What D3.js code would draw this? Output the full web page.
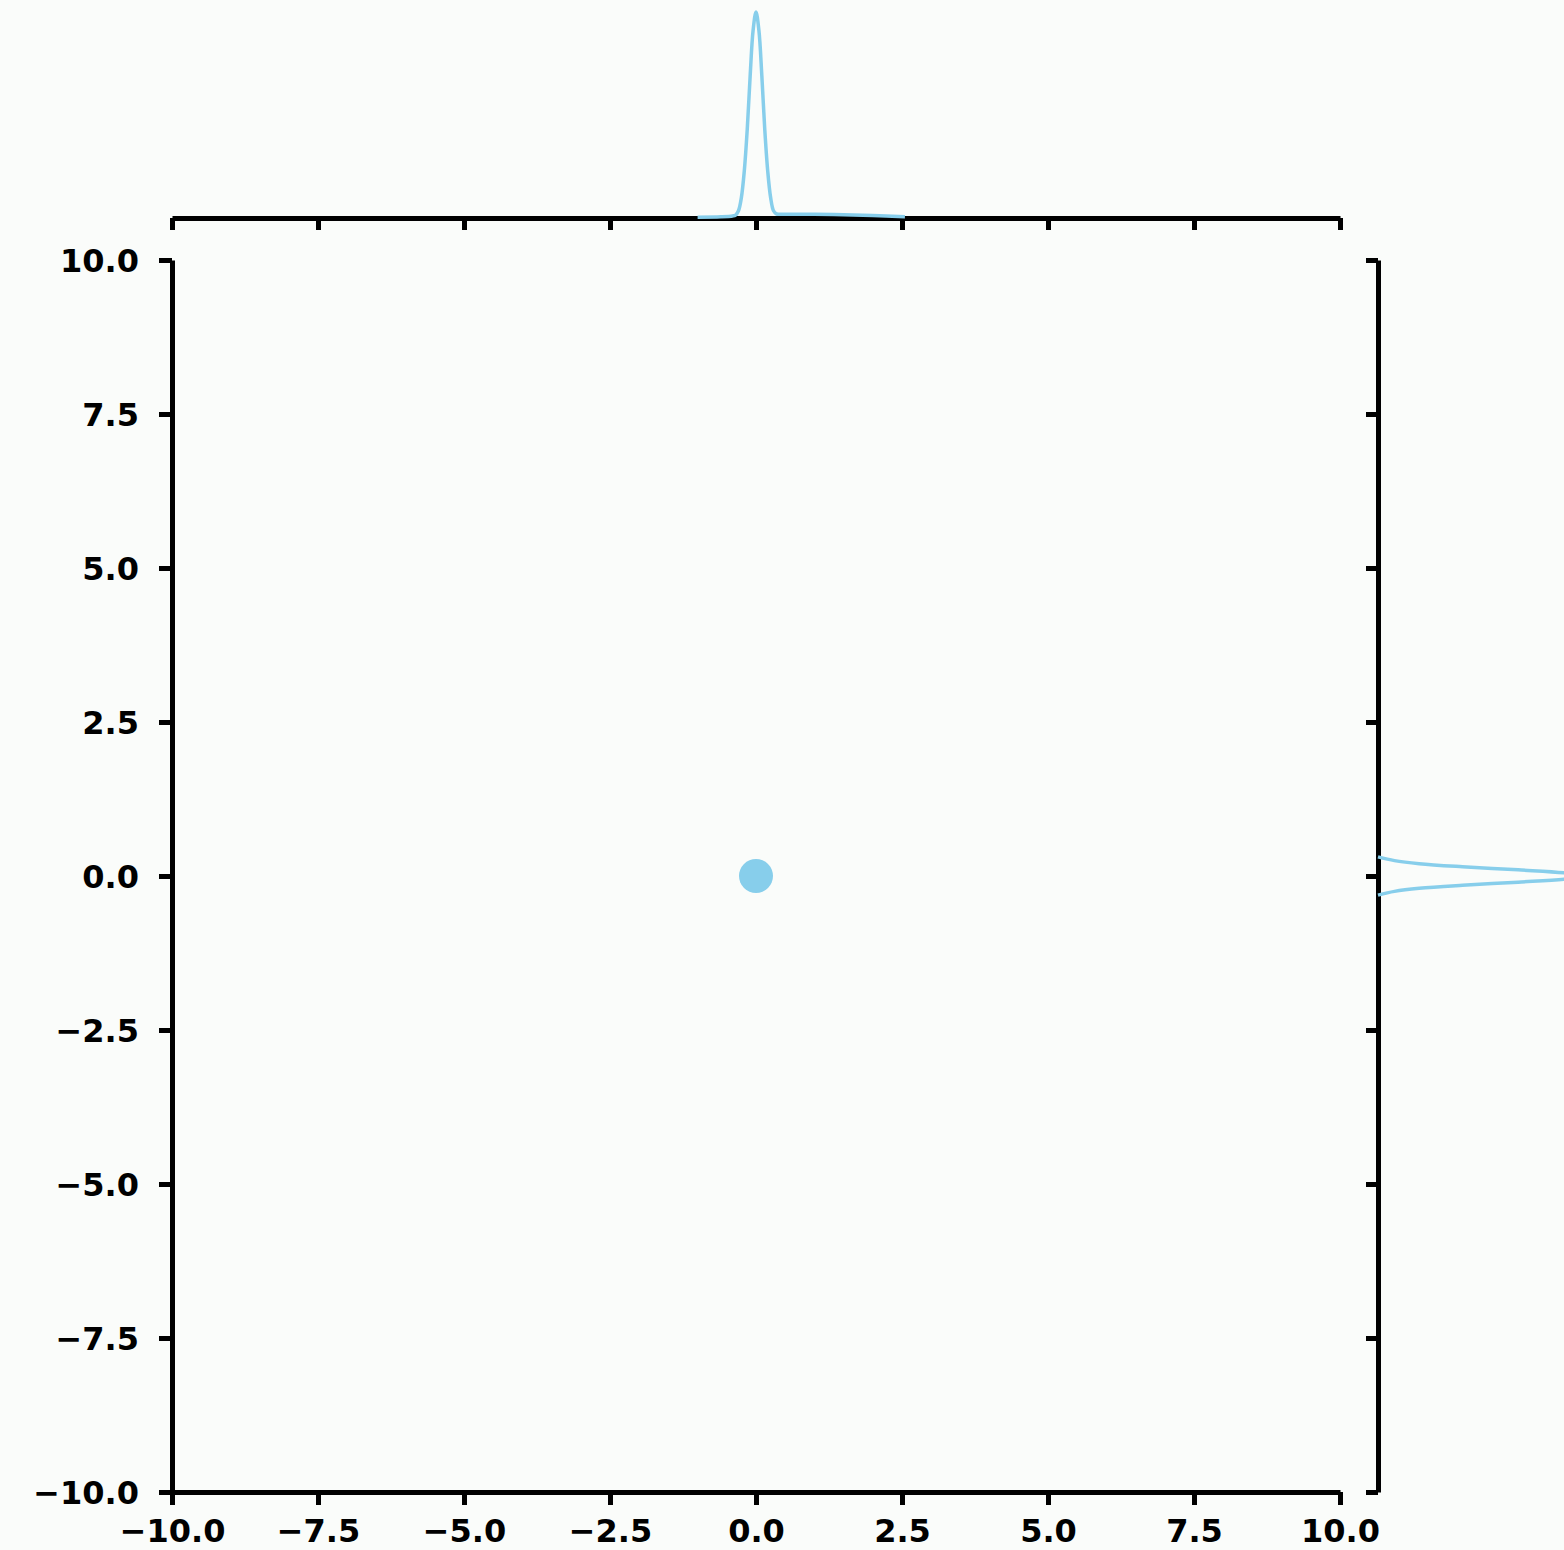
<!DOCTYPE html>
<html>
<head>
<meta charset="utf-8">
<script src="https://cdn.jsdelivr.net/npm/d3@7"></script>
<style>
body{margin:0;background:#fafcfa;}
.tick text{font-family:"DejaVu Sans";font-weight:bold;font-size:32px;fill:#000;}
</style>
</head>
<body>
<svg id="chart"></svg>
<script>
// SCATTER DATA
var point_x = [0.0];
var point_y = [0.0];

// TICKS
var tick_values = [-10, -7.5, -5, -2.5, 0, 2.5, 5, 7.5, 10];

// TOP MARGINAL KDE (x, relative density)
var top_kde_x = [-1.0, -0.6, -0.4, -0.35, -0.3, -0.25, -0.2, -0.15, -0.1, -0.05, 0, 0.05, 0.1, 0.15, 0.2, 0.25, 0.3, 0.35, 0.4, 0.6, 1.0, 1.5, 2.0, 2.55];
var top_kde_d = [0.004, 0.006, 0.01, 0.014, 0.035, 0.10, 0.23, 0.43, 0.69, 0.91, 1.0, 0.91, 0.69, 0.43, 0.23, 0.10, 0.035, 0.02, 0.018, 0.018, 0.018, 0.016, 0.012, 0.006];

// RIGHT MARGINAL KDE (y, relative density)
var right_kde_y = [-0.31, -0.25, -0.2, -0.15, -0.1, -0.05, 0, 0.05, 0.1, 0.15, 0.2, 0.25, 0.31];
var right_kde_d = [0.0, 0.08, 0.20, 0.41, 0.68, 0.91, 1.0, 0.91, 0.68, 0.41, 0.20, 0.08, 0.0];

var W = 1564, H = 1550;
var color = "#87ceeb";

var svg = d3.select("#chart").attr("width", W).attr("height", H);

// SCALES
var x = d3.scaleLinear().domain([-10, 10]).range([172, 1340]);
var y = d3.scaleLinear().domain([-10, 10]).range([1492, 260]);
var top_d = d3.scaleLinear().domain([0, 1]).range([218, 12]);
var right_d = d3.scaleLinear().domain([0, 1]).range([1378, 1584]);

var fmt = d3.format(".1f");

function style_axis(g){
    g.select(".domain").attr("stroke", "#000").attr("stroke-width", 5);
    g.selectAll(".tick line").attr("stroke", "#000").attr("stroke-width", 5);
}

// MAIN AXES
svg.append("g")
    .attr("transform", "translate(0,1492)")
    .call(d3.axisBottom(x).tickValues(tick_values).tickFormat(fmt).tickSize(13).tickSizeOuter(0).tickPadding(14))
    .call(style_axis);

svg.append("g")
    .attr("transform", "translate(172,0)")
    .call(d3.axisLeft(y).tickValues(tick_values).tickFormat(fmt).tickSize(13).tickSizeOuter(0).tickPadding(20))
    .call(style_axis)
    .selectAll(".tick text").attr("dy", "0.36em");

// TOP MARGINAL AXIS (no labels)
svg.append("g")
    .attr("transform", "translate(0,218)")
    .call(d3.axisBottom(x).tickValues(tick_values).tickFormat("").tickSize(12).tickSizeOuter(0))
    .call(style_axis);

// RIGHT MARGINAL AXIS (no labels)
svg.append("g")
    .attr("transform", "translate(1378,0)")
    .call(d3.axisLeft(y).tickValues(tick_values).tickFormat("").tickSize(12).tickSizeOuter(0))
    .call(style_axis);

// TOP KDE
var top_line = d3.line()
    .x(function(d, i){ return x(top_kde_x[i]); })
    .y(function(d){ return top_d(d); })
    .curve(d3.curveCatmullRom);

svg.append("path")
    .datum(top_kde_d)
    .attr("d", top_line)
    .attr("fill", "none")
    .attr("stroke", color)
    .attr("stroke-width", 3.5);

// RIGHT KDE
var right_line = d3.line()
    .x(function(d){ return right_d(d); })
    .y(function(d, i){ return y(right_kde_y[i]); })
    .curve(d3.curveCatmullRom);

svg.append("path")
    .datum(right_kde_d)
    .attr("d", right_line)
    .attr("fill", "none")
    .attr("stroke", color)
    .attr("stroke-width", 3.5);

// SCATTER POINT
svg.selectAll("circle.pt")
    .data(point_x)
    .enter()
    .append("circle")
    .attr("class", "pt")
    .attr("cx", function(d){ return x(d); })
    .attr("cy", function(d, i){ return y(point_y[i]); })
    .attr("r", 17)
    .attr("fill", color);
</script>
</body>
</html>
